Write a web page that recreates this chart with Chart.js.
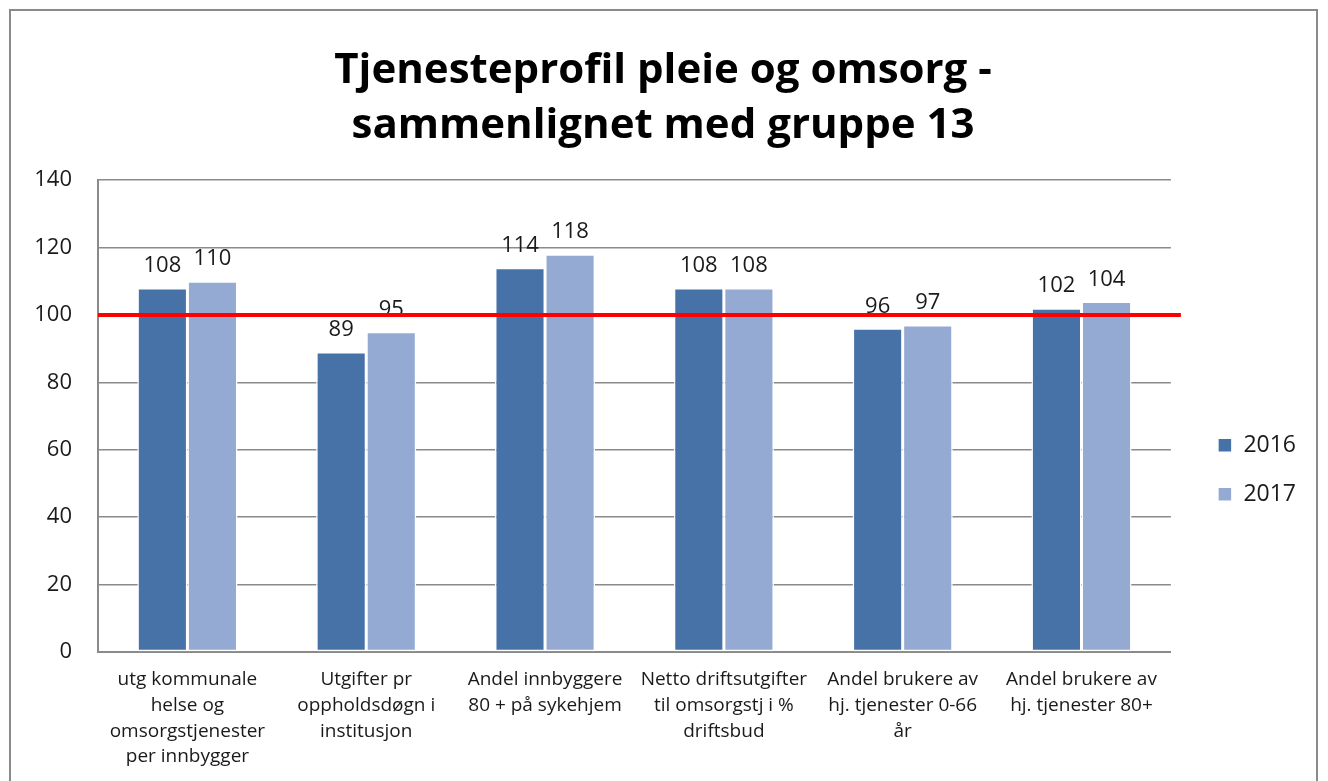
<!DOCTYPE html>
<html lang="no">
<head>
<meta charset="UTF-8">
<title>Tjenesteprofil pleie og omsorg</title>
<script src="https://cdn.jsdelivr.net/npm/chart.js"></script>
<style>
  html, body { margin: 0; padding: 0; background: #fff; }
  #wrap { position: relative; width: 1328px; height: 781px; }
</style>
</head>
<body>
<div id="wrap"><canvas id="chart" width="1328" height="781"></canvas></div>
<script>
var categories = [
  ['utg kommunale', 'helse og', 'omsorgstjenester', 'per innbygger'],
  ['Utgifter pr', 'oppholdsdøgn i', 'institusjon'],
  ['Andel innbyggere', '80 + på sykehjem'],
  ['Netto driftsutgifter', 'til omsorgstj i %', 'driftsbud'],
  ['Andel brukere av', 'hj. tjenester 0-66', 'år'],
  ['Andel brukere av', 'hj. tjenester 80+']
];
var values2016 = [108, 89, 114, 108, 96, 102];
var values2017 = [110, 95, 118, 108, 97, 104];
var yTicks = [0, 20, 40, 60, 80, 100, 120, 140];
var referenceLevel = 100;

var fontFamily = '"Open Sans", Lato, sans-serif';

// grey frame round the whole chart
var framePlugin = {
  id: 'frame',
  beforeDraw: function(chart) {
    var ctx = chart.ctx;
    ctx.save();
    ctx.fillStyle = '#fff';
    ctx.fillRect(0, 0, chart.width, chart.height);
    ctx.strokeStyle = '#8a8a8a';
    ctx.lineWidth = 2;
    ctx.strokeRect(10, 10, chart.width - 21, chart.height + 20);
    ctx.restore();
  }
};

// value labels above bars
var valueLabels = {
  id: 'valueLabels',
  afterDatasetsDraw: function(chart) {
    var ctx = chart.ctx;
    ctx.save();
    ctx.font = '22px ' + fontFamily;
    ctx.fillStyle = '#1a1a1a';
    ctx.textAlign = 'center';
    ctx.textBaseline = 'middle';
    chart.data.datasets.forEach(function(ds, i) {
      var meta = chart.getDatasetMeta(i);
      if (meta.type !== 'bar') return;
      meta.data.forEach(function(bar, j) {
        ctx.fillText(ds.data[j], bar.x, bar.y - 22);
      });
    });
    ctx.restore();
  }
};

// red reference line at 100
var refLine = {
  id: 'refLine',
  afterDraw: function(chart) {
    var y = chart.scales.y.getPixelForValue(referenceLevel);
    var ctx = chart.ctx;
    ctx.save();
    ctx.strokeStyle = '#ff0000';
    ctx.lineWidth = 4;
    ctx.beginPath();
    ctx.moveTo(chart.chartArea.left, y);
    ctx.lineTo(chart.chartArea.right + 10, y);
    ctx.stroke();
    ctx.restore();
  }
};

new Chart(document.getElementById('chart'), {
  type: 'bar',
  data: {
    labels: categories,
    datasets: [
      { label: '2016', data: values2016, backgroundColor: '#4672a7', borderColor: '#ffffff', borderWidth: 1.5, borderSkipped: false },
      { label: '2017', data: values2017, backgroundColor: '#95aad3', borderColor: '#ffffff', borderWidth: 1.5, borderSkipped: false }
    ]
  },
  options: {
    responsive: false,
    animation: false,
    datasets: { bar: { categoryPercentage: 0.56, barPercentage: 1.0 } },
    layout: { padding: { top: 10, left: 20, right: 22, bottom: 0 } },
    plugins: {
      title: {
        display: true,
        text: ['Tjenesteprofil pleie og omsorg -', 'sammenlignet med gruppe 13'],
        color: '#000',
        font: { family: fontFamily, size: 42, weight: 'bold', lineHeight: 1.31 },
        padding: { top: 34, bottom: 26 }
      },
      legend: {
        position: 'right',
        title: { display: true, text: ' ', font: { size: 12, lineHeight: 1.2 }, padding: { top: 67, bottom: 67 } },
        labels: {
          color: '#1a1a1a',
          font: { family: fontFamily, size: 23 },
          boxWidth: 14,
          boxHeight: 14,
          padding: 26
        }
      },
      tooltip: { enabled: false }
    },
    scales: {
      x: {
        afterFit: function(scale) { scale.height = 129; },
        grid: { display: false, drawTicks: false },
        border: { color: '#8a8a8a', width: 2 },
        ticks: {
          color: '#1a1a1a',
          font: { family: fontFamily, size: 19, lineHeight: 1.35 },
          padding: 15,
          maxRotation: 0,
          autoSkip: false
        }
      },
      y: {
        min: 0,
        max: 140,
        afterBuildTicks: function(scale) {
          scale.ticks = yTicks.map(function(v) { return { value: v }; });
        },
        afterFit: function(scale) { scale.width = 78; },
        grid: { color: '#8a8a8a', lineWidth: 1.5, drawTicks: false },
        border: { color: '#8a8a8a', width: 2 },
        ticks: {
          color: '#1a1a1a',
          font: { family: fontFamily, size: 22 },
          padding: 26
        }
      },
      gap: {
        position: 'right',
        display: true,
        grid: { display: false },
        border: { display: false },
        ticks: { display: false },
        afterFit: function(scale) { scale.width = 21; }
      }
    }
  },
  plugins: [framePlugin, valueLabels, refLine]
});
</script>
</body>
</html>
